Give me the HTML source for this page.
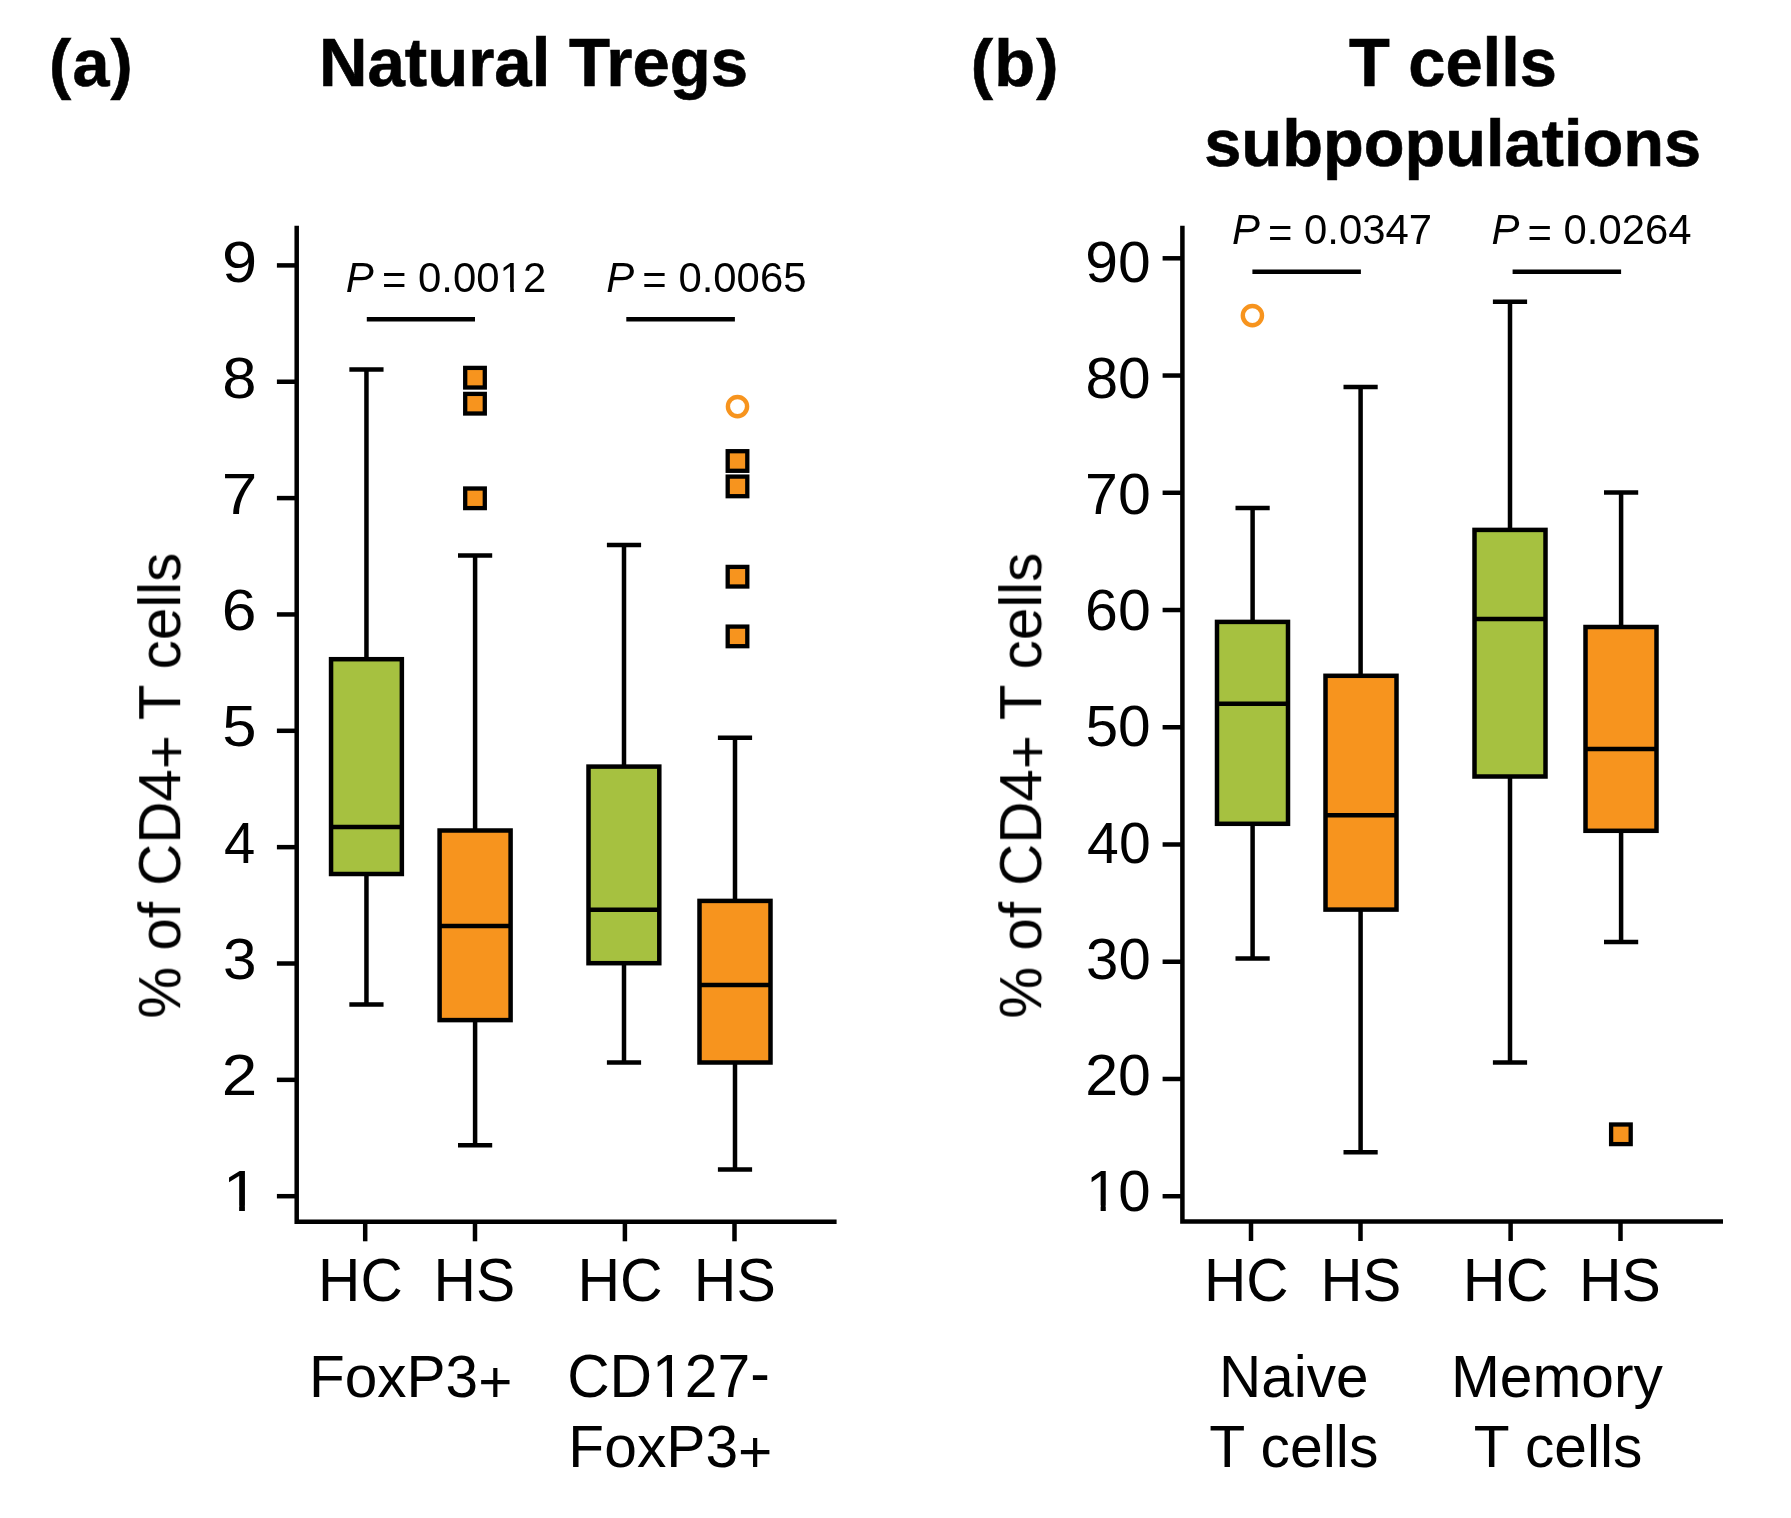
<!DOCTYPE html>
<html><head><meta charset="utf-8"><title>Figure</title>
<style>
html,body{margin:0;padding:0;background:#fff;}
svg{display:block;}
text{font-family:"Liberation Sans",sans-serif;fill:#000;}
.b{font-weight:bold;stroke:#000;stroke-width:0.6px;}
.i{font-style:italic;}
</style></head>
<body>
<svg width="1791" height="1518" viewBox="0 0 1791 1518">
<rect x="0" y="0" width="1791" height="1518" fill="#ffffff"/>
<path d="M296.70,225.70 V1221.80 H836.60" fill="none" stroke="#000" stroke-width="4.5" stroke-linejoin="miter"/>
<line x1="276.90" y1="1196.20" x2="296.70" y2="1196.20" stroke="#000" stroke-width="4.5"/>
<line x1="276.90" y1="1079.85" x2="296.70" y2="1079.85" stroke="#000" stroke-width="4.5"/>
<line x1="276.90" y1="963.50" x2="296.70" y2="963.50" stroke="#000" stroke-width="4.5"/>
<line x1="276.90" y1="847.15" x2="296.70" y2="847.15" stroke="#000" stroke-width="4.5"/>
<line x1="276.90" y1="730.80" x2="296.70" y2="730.80" stroke="#000" stroke-width="4.5"/>
<line x1="276.90" y1="614.45" x2="296.70" y2="614.45" stroke="#000" stroke-width="4.5"/>
<line x1="276.90" y1="498.10" x2="296.70" y2="498.10" stroke="#000" stroke-width="4.5"/>
<line x1="276.90" y1="381.75" x2="296.70" y2="381.75" stroke="#000" stroke-width="4.5"/>
<line x1="276.90" y1="265.40" x2="296.70" y2="265.40" stroke="#000" stroke-width="4.5"/>
<line x1="365.20" y1="1221.80" x2="365.20" y2="1241.30" stroke="#000" stroke-width="4.5"/>
<line x1="475.00" y1="1221.80" x2="475.00" y2="1241.30" stroke="#000" stroke-width="4.5"/>
<line x1="624.90" y1="1221.80" x2="624.90" y2="1241.30" stroke="#000" stroke-width="4.5"/>
<line x1="734.50" y1="1221.80" x2="734.50" y2="1241.30" stroke="#000" stroke-width="4.5"/>
<line x1="366.45" y1="369.40" x2="366.45" y2="659.20" stroke="#000" stroke-width="4.5"/>
<line x1="366.45" y1="874.00" x2="366.45" y2="1004.60" stroke="#000" stroke-width="4.5"/>
<line x1="349.35" y1="369.40" x2="383.55" y2="369.40" stroke="#000" stroke-width="4.5"/>
<line x1="349.35" y1="1004.60" x2="383.55" y2="1004.60" stroke="#000" stroke-width="4.5"/>
<rect x="331.05" y="659.20" width="70.80" height="214.80" fill="#a6c140" stroke="#000" stroke-width="4.5"/>
<line x1="331.05" y1="826.90" x2="401.85" y2="826.90" stroke="#000" stroke-width="4.5"/>
<line x1="475.10" y1="555.40" x2="475.10" y2="830.50" stroke="#000" stroke-width="4.5"/>
<line x1="475.10" y1="1020.10" x2="475.10" y2="1145.30" stroke="#000" stroke-width="4.5"/>
<line x1="458.00" y1="555.40" x2="492.20" y2="555.40" stroke="#000" stroke-width="4.5"/>
<line x1="458.00" y1="1145.30" x2="492.20" y2="1145.30" stroke="#000" stroke-width="4.5"/>
<rect x="439.60" y="830.50" width="71.00" height="189.60" fill="#f7941e" stroke="#000" stroke-width="4.5"/>
<line x1="439.60" y1="926.00" x2="510.60" y2="926.00" stroke="#000" stroke-width="4.5"/>
<line x1="624.00" y1="544.90" x2="624.00" y2="766.60" stroke="#000" stroke-width="4.5"/>
<line x1="624.00" y1="963.20" x2="624.00" y2="1062.50" stroke="#000" stroke-width="4.5"/>
<line x1="606.90" y1="544.90" x2="641.10" y2="544.90" stroke="#000" stroke-width="4.5"/>
<line x1="606.90" y1="1062.50" x2="641.10" y2="1062.50" stroke="#000" stroke-width="4.5"/>
<rect x="588.50" y="766.60" width="70.80" height="196.60" fill="#a6c140" stroke="#000" stroke-width="4.5"/>
<line x1="588.50" y1="909.70" x2="659.30" y2="909.70" stroke="#000" stroke-width="4.5"/>
<line x1="735.00" y1="737.70" x2="735.00" y2="900.90" stroke="#000" stroke-width="4.5"/>
<line x1="735.00" y1="1062.50" x2="735.00" y2="1169.40" stroke="#000" stroke-width="4.5"/>
<line x1="717.90" y1="737.70" x2="752.10" y2="737.70" stroke="#000" stroke-width="4.5"/>
<line x1="717.90" y1="1169.40" x2="752.10" y2="1169.40" stroke="#000" stroke-width="4.5"/>
<rect x="699.50" y="900.90" width="71.00" height="161.60" fill="#f7941e" stroke="#000" stroke-width="4.5"/>
<line x1="699.50" y1="985.10" x2="770.50" y2="985.10" stroke="#000" stroke-width="4.5"/>
<rect x="465.20" y="367.90" width="19.6" height="19.6" fill="#f7941e" stroke="#000" stroke-width="4.3"/>
<rect x="465.20" y="393.90" width="19.6" height="19.6" fill="#f7941e" stroke="#000" stroke-width="4.3"/>
<rect x="465.20" y="488.50" width="19.6" height="19.6" fill="#f7941e" stroke="#000" stroke-width="4.3"/>
<rect x="727.70" y="451.20" width="19.6" height="19.6" fill="#f7941e" stroke="#000" stroke-width="4.3"/>
<rect x="727.70" y="476.60" width="19.6" height="19.6" fill="#f7941e" stroke="#000" stroke-width="4.3"/>
<rect x="727.70" y="566.90" width="19.6" height="19.6" fill="#f7941e" stroke="#000" stroke-width="4.3"/>
<rect x="727.70" y="626.60" width="19.6" height="19.6" fill="#f7941e" stroke="#000" stroke-width="4.3"/>
<circle cx="737.50" cy="406.60" r="9.6" fill="none" stroke="#f7941e" stroke-width="4.4"/>
<line x1="366.80" y1="319.20" x2="475.00" y2="319.20" stroke="#000" stroke-width="4.5"/>
<line x1="626.30" y1="319.20" x2="734.90" y2="319.20" stroke="#000" stroke-width="4.5"/>
<path d="M1182.40,225.80 V1221.50 H1723.00" fill="none" stroke="#000" stroke-width="4.5" stroke-linejoin="miter"/>
<line x1="1162.60" y1="1196.22" x2="1182.40" y2="1196.22" stroke="#000" stroke-width="4.5"/>
<line x1="1162.60" y1="1078.98" x2="1182.40" y2="1078.98" stroke="#000" stroke-width="4.5"/>
<line x1="1162.60" y1="961.74" x2="1182.40" y2="961.74" stroke="#000" stroke-width="4.5"/>
<line x1="1162.60" y1="844.50" x2="1182.40" y2="844.50" stroke="#000" stroke-width="4.5"/>
<line x1="1162.60" y1="727.26" x2="1182.40" y2="727.26" stroke="#000" stroke-width="4.5"/>
<line x1="1162.60" y1="610.02" x2="1182.40" y2="610.02" stroke="#000" stroke-width="4.5"/>
<line x1="1162.60" y1="492.78" x2="1182.40" y2="492.78" stroke="#000" stroke-width="4.5"/>
<line x1="1162.60" y1="375.54" x2="1182.40" y2="375.54" stroke="#000" stroke-width="4.5"/>
<line x1="1162.60" y1="258.30" x2="1182.40" y2="258.30" stroke="#000" stroke-width="4.5"/>
<line x1="1251.00" y1="1221.50" x2="1251.00" y2="1241.00" stroke="#000" stroke-width="4.5"/>
<line x1="1360.50" y1="1221.50" x2="1360.50" y2="1241.00" stroke="#000" stroke-width="4.5"/>
<line x1="1510.60" y1="1221.50" x2="1510.60" y2="1241.00" stroke="#000" stroke-width="4.5"/>
<line x1="1620.50" y1="1221.50" x2="1620.50" y2="1241.00" stroke="#000" stroke-width="4.5"/>
<line x1="1252.60" y1="508.00" x2="1252.60" y2="621.90" stroke="#000" stroke-width="4.5"/>
<line x1="1252.60" y1="823.80" x2="1252.60" y2="958.40" stroke="#000" stroke-width="4.5"/>
<line x1="1235.50" y1="508.00" x2="1269.70" y2="508.00" stroke="#000" stroke-width="4.5"/>
<line x1="1235.50" y1="958.40" x2="1269.70" y2="958.40" stroke="#000" stroke-width="4.5"/>
<rect x="1217.00" y="621.90" width="71.00" height="201.90" fill="#a6c140" stroke="#000" stroke-width="4.5"/>
<line x1="1217.00" y1="703.80" x2="1288.00" y2="703.80" stroke="#000" stroke-width="4.5"/>
<line x1="1360.60" y1="387.00" x2="1360.60" y2="675.80" stroke="#000" stroke-width="4.5"/>
<line x1="1360.60" y1="909.60" x2="1360.60" y2="1152.20" stroke="#000" stroke-width="4.5"/>
<line x1="1343.50" y1="387.00" x2="1377.70" y2="387.00" stroke="#000" stroke-width="4.5"/>
<line x1="1343.50" y1="1152.20" x2="1377.70" y2="1152.20" stroke="#000" stroke-width="4.5"/>
<rect x="1325.50" y="675.80" width="71.00" height="233.80" fill="#f7941e" stroke="#000" stroke-width="4.5"/>
<line x1="1325.50" y1="815.30" x2="1396.50" y2="815.30" stroke="#000" stroke-width="4.5"/>
<line x1="1510.00" y1="301.80" x2="1510.00" y2="529.90" stroke="#000" stroke-width="4.5"/>
<line x1="1510.00" y1="776.50" x2="1510.00" y2="1062.40" stroke="#000" stroke-width="4.5"/>
<line x1="1492.90" y1="301.80" x2="1527.10" y2="301.80" stroke="#000" stroke-width="4.5"/>
<line x1="1492.90" y1="1062.40" x2="1527.10" y2="1062.40" stroke="#000" stroke-width="4.5"/>
<rect x="1474.50" y="529.90" width="71.00" height="246.60" fill="#a6c140" stroke="#000" stroke-width="4.5"/>
<line x1="1474.50" y1="619.10" x2="1545.50" y2="619.10" stroke="#000" stroke-width="4.5"/>
<line x1="1621.10" y1="492.50" x2="1621.10" y2="627.00" stroke="#000" stroke-width="4.5"/>
<line x1="1621.10" y1="830.80" x2="1621.10" y2="942.00" stroke="#000" stroke-width="4.5"/>
<line x1="1604.00" y1="492.50" x2="1638.20" y2="492.50" stroke="#000" stroke-width="4.5"/>
<line x1="1604.00" y1="942.00" x2="1638.20" y2="942.00" stroke="#000" stroke-width="4.5"/>
<rect x="1585.50" y="627.00" width="71.00" height="203.80" fill="#f7941e" stroke="#000" stroke-width="4.5"/>
<line x1="1585.50" y1="749.00" x2="1656.50" y2="749.00" stroke="#000" stroke-width="4.5"/>
<circle cx="1252.40" cy="315.60" r="9.6" fill="none" stroke="#f7941e" stroke-width="4.4"/>
<rect x="1611.10" y="1124.50" width="19.6" height="19.6" fill="#f7941e" stroke="#000" stroke-width="4.3"/>
<line x1="1252.40" y1="271.80" x2="1360.90" y2="271.80" stroke="#000" stroke-width="4.5"/>
<line x1="1512.60" y1="271.80" x2="1621.10" y2="271.80" stroke="#000" stroke-width="4.5"/>
<g opacity="0.999">
<g transform="translate(49.10,86.00) scale(0.9987,1.0)"><text font-size="66.7" class="b" letter-spacing="1.1">(a)</text></g>
<g transform="translate(318.97,86.00) scale(1.0069,1.02)"><text font-size="66.7" class="b" >Natural Tregs</text></g>
<g transform="translate(970.79,86.10) scale(1.0030,1.0)"><text font-size="66.7" class="b" letter-spacing="1.1">(b)</text></g>
<g transform="translate(1348.90,86.10) scale(1.0019,1.02)"><text font-size="66.7" class="b" >T cells</text></g>
<g transform="translate(1204.20,166.00) scale(1.0012,1.0)"><text font-size="66.7" class="b" >subpopulations</text></g>
<g transform="translate(318.08,1300.70) scale(1.0109,1.04)"><text font-size="58" class="" >HC</text></g>
<g transform="translate(433.57,1300.70) scale(1.0145,1.04)"><text font-size="58" class="" >HS</text></g>
<g transform="translate(577.45,1300.70) scale(1.0187,1.04)"><text font-size="58" class="" >HC</text></g>
<g transform="translate(693.85,1300.70) scale(1.0173,1.04)"><text font-size="58" class="" >HS</text></g>
<g transform="translate(308.99,1396.80) scale(1.0096,1.035)"><text font-size="58" class="" >FoxP3<tspan dy="5.2">+</tspan></text></g>
<g transform="translate(567.16,1396.70) scale(1.0137,1.04)"><text font-size="58" class="" >CD127<tspan dy="-2.8">-</tspan></text><rect x="87.19" y="-5.53" width="11.17" height="6.53" fill="#fff"/><rect x="103.47" y="-5.53" width="10.71" height="6.53" fill="#fff"/></g>
<g transform="translate(568.37,1466.80) scale(1.0127,1.035)"><text font-size="58" class="" >FoxP3<tspan dy="5.2">+</tspan></text></g>
<g transform="translate(1203.88,1300.50) scale(1.0109,1.04)"><text font-size="58" class="" >HC</text></g>
<g transform="translate(1320.52,1300.50) scale(1.0022,1.04)"><text font-size="58" class="" >HS</text></g>
<g transform="translate(1462.82,1300.50) scale(1.0239,1.04)"><text font-size="58" class="" >HC</text></g>
<g transform="translate(1579.06,1300.50) scale(1.0159,1.04)"><text font-size="58" class="" >HS</text></g>
<g transform="translate(1219.10,1397.00) scale(1.0082,1.03)"><text font-size="58" class="" >Naive</text></g>
<g transform="translate(1209.18,1466.90) scale(1.0167,1.03)"><text font-size="58" class="" >T cells</text></g>
<g transform="translate(1450.88,1397.00) scale(1.0121,1.03)"><text font-size="58" class="" >Memory</text></g>
<g transform="translate(1473.79,1466.90) scale(1.0125,1.03)"><text font-size="58" class="" >T cells</text></g>
<g transform="translate(345.79,291.80) scale(1.0224,1.043)"><text font-size="41" class="" ><tspan class="i">P</tspan> <tspan dx="-3.4" dy="2.3">=</tspan><tspan dy="-2.3"> 0.0012</tspan></text><rect x="152.63" y="-4.26" width="8.19" height="5.26" fill="#fff"/><rect x="164.44" y="-4.26" width="7.87" height="5.26" fill="#fff"/></g>
<g transform="translate(606.19,291.80) scale(1.0217,1.043)"><text font-size="41" class="" ><tspan class="i">P</tspan> <tspan dx="-3.4" dy="2.3">=</tspan><tspan dy="-2.3"> 0.0065</tspan></text></g>
<g transform="translate(1231.89,244.40) scale(1.0214,1.043)"><text font-size="41" class="" ><tspan class="i">P</tspan> <tspan dx="-3.4" dy="2.3">=</tspan><tspan dy="-2.3"> 0.0347</tspan></text></g>
<g transform="translate(1491.49,244.40) scale(1.0200,1.043)"><text font-size="41" class="" ><tspan class="i">P</tspan> <tspan dx="-3.4" dy="2.3">=</tspan><tspan dy="-2.3"> 0.0264</tspan></text></g>
<g transform="translate(180.50,1016.60) rotate(-90) translate(-2.01,0) scale(1.0052,1.025)"><text font-size="58" class="" >% of CD4<tspan dy="5.2">+</tspan><tspan dy="-5.2"> T cells</tspan></text></g>
<g transform="translate(1041.50,1016.60) rotate(-90) translate(-2.01,0) scale(1.0052,1.025)"><text font-size="58" class="" >% of CD4<tspan dy="5.2">+</tspan><tspan dy="-5.2"> T cells</tspan></text></g>
<g transform="translate(222.02,281.80) scale(1.0882,1.0)"><text font-size="58" class="" >9</text></g>
<g transform="translate(222.27,397.95) scale(1.0610,1.0)"><text font-size="58" class="" >8</text></g>
<g transform="translate(221.72,514.10) scale(1.1034,1.0)"><text font-size="58" class="" >7</text></g>
<g transform="translate(221.78,630.25) scale(1.0775,1.0)"><text font-size="58" class="" >6</text></g>
<g transform="translate(222.25,746.40) scale(1.0617,1.0)"><text font-size="58" class="" >5</text></g>
<g transform="translate(224.03,862.55) scale(0.9700,1.0)"><text font-size="58" class="" >4</text></g>
<g transform="translate(222.92,978.70) scale(1.0393,1.0)"><text font-size="58" class="" >3</text></g>
<g transform="translate(221.78,1094.85) scale(1.1015,1.0)"><text font-size="58" class="" >2</text></g>
<g transform="translate(222.72,1211.00) scale(1.1254,1.0)"><text font-size="58" class="" >1</text><rect x="3.42" y="-5.53" width="11.17" height="6.53" fill="#fff"/><rect x="19.71" y="-5.53" width="10.71" height="6.53" fill="#fff"/></g>
<g transform="translate(1085.32,281.80) scale(1.0139,1.0)"><text font-size="58" class="" >90</text></g>
<g transform="translate(1085.50,397.95) scale(1.0111,1.0)"><text font-size="58" class="" >80</text></g>
<g transform="translate(1085.08,514.10) scale(1.0179,1.0)"><text font-size="58" class="" >70</text></g>
<g transform="translate(1085.05,630.25) scale(1.0183,1.0)"><text font-size="58" class="" >60</text></g>
<g transform="translate(1085.48,746.40) scale(1.0115,1.0)"><text font-size="58" class="" >50</text></g>
<g transform="translate(1087.11,862.55) scale(0.9852,1.0)"><text font-size="58" class="" >40</text></g>
<g transform="translate(1086.10,978.70) scale(1.0015,1.0)"><text font-size="58" class="" >30</text></g>
<g transform="translate(1085.13,1094.85) scale(1.0171,1.0)"><text font-size="58" class="" >20</text></g>
<g transform="translate(1086.00,1211.00) scale(1.0030,1.0)"><text font-size="58" class="" >10</text><rect x="3.42" y="-5.53" width="11.17" height="6.53" fill="#fff"/><rect x="19.71" y="-5.53" width="10.71" height="6.53" fill="#fff"/></g>
</g>
</svg>
</body></html>
